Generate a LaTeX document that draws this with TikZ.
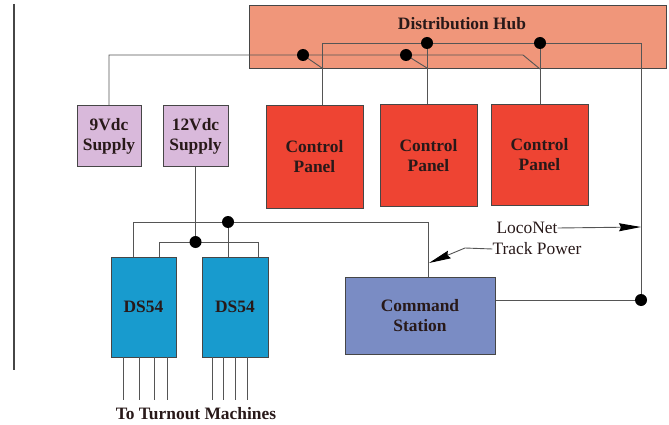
\documentclass[tikz,border=0pt]{standalone}
\usepackage{fontspec}
\setmainfont{Liberation Serif}
\usetikzlibrary{arrows.meta}
\definecolor{hubc}{RGB}{240,150,122}
\definecolor{panelc}{RGB}{238,68,51}
\definecolor{supc}{RGB}{217,185,219}
\definecolor{dsc}{RGB}{24,155,206}
\definecolor{cmdc}{RGB}{122,140,196}
\definecolor{edgec}{RGB}{70,70,70}
\definecolor{wirec}{RGB}{85,85,85}
\definecolor{txtc}{RGB}{40,25,25}
\tikzset{
  box/.style={draw=edgec, line width=1pt, inner sep=0pt, align=center,
    font=\fontsize{17.4}{20}\selectfont\bfseries, text=txtc},
  wire/.style={draw=wirec, line width=0.9pt},
  jdot/.style={circle, fill=black, inner sep=0pt, minimum size=12pt},
  lbl/.style={inner sep=0pt, font=\fontsize{17.4}{20}\selectfont, text=txtc},
  blbl/.style={inner sep=0pt, font=\fontsize{17.4}{20}\selectfont\bfseries, text=txtc},
  tip/.style={-{Stealth[length=22pt,width=8pt,inset=2pt,color=black]}}
}
\begin{document}
\begin{tikzpicture}[x=1pt,y=-1pt]
\useasboundingbox (0,0) rectangle (669,425);
% margin bar
\draw[line width=2.2pt, color=edgec] (14,4) -- (14,370);
% boxes
\node[box, fill=hubc, minimum width=417pt, minimum height=63pt] (hub) at (457.5,37.5) {};
\node[blbl] (hubtxt) at (462,24) {Distribution Hub};
\node[box, fill=supc, minimum width=64pt, minimum height=60pt] (nine) at (109,136) {9Vdc\\Supply};
\node[box, fill=supc, minimum width=65pt, minimum height=60pt] (twelve) at (195.5,136) {12Vdc\\Supply};
\node[box, fill=panelc, minimum width=97pt, minimum height=102pt] (p1) at (314.5,157) {Control\\Panel};
\node[box, fill=panelc, minimum width=97pt, minimum height=101pt] (p2) at (428.5,155.5) {Control\\Panel};
\node[box, fill=panelc, minimum width=97pt, minimum height=100pt] (p3) at (539.5,155) {Control\\Panel};
\node[box, fill=dsc, minimum width=65pt, minimum height=100pt] (ds1) at (143.5,307) {DS54};
\node[box, fill=dsc, minimum width=66pt, minimum height=100pt] (ds2) at (235,307) {DS54};
\node[box, fill=cmdc, minimum width=150pt, minimum height=77pt] (cmd) at (420,315.5) {Command\\Station};
% hub coordinates
\coordinate (u1) at (322,43);
\coordinate (u2) at (427,43);
\coordinate (u3) at (540,43);
\coordinate (ur) at (641,43);
\coordinate (l1) at (303,55);
\coordinate (l2) at (406,55);
\coordinate (le) at (523,55);
\coordinate (cr) at (641,300);
% lower (9V) line
\draw[wire] (nine.north) |- (le) -- (540,69);
\draw[wire] (l1) -- (322,68);
\draw[wire] (l2) -- (427,68);
% upper (LocoNet) line
\draw[wire] (u1 |- p1.north) -- (u1) -- (ur) -- (cr) -- (cmd.east |- cr);
\draw[wire] (u2) -- (u2 |- p2.north);
\draw[wire] (u3) -- (u3 |- p3.north);
\node[jdot] (d1) at (l1) {};
\node[jdot] (d2) at (l2) {};
\node[jdot] (d3) at (u2) {};
\node[jdot] (d4) at (u3) {};
\node[jdot] (d5) at (cr) {};
% DS54 wiring
\coordinate (a1) at (133,222);
\coordinate (a2) at (228,222);
\coordinate (a3) at (428,222);
\coordinate (b1) at (159,242);
\coordinate (b2) at (197,242);
\coordinate (b3) at (258,242);
\draw[wire] (a1 |- ds1.north) -- (a1) -- (a3) -- (a3 |- cmd.north);
\draw[wire] (a2) -- (a2 |- ds2.north);
\draw[wire] (b1 |- ds1.north) -- (b1) -- (b3) -- (b3 |- ds2.north);
\draw[wire] (twelve.south) -- (twelve.south |- b2);
\node[jdot] (d6) at (a2) {};
\node[jdot] (d7) at (twelve.south |- b2) {};
% outputs
\foreach \x in {123,139,154,167} {\draw[wire] (\x,357) -- (\x,400);}
\foreach \x in {212,223,235,247} {\draw[wire] (\x,357) -- (\x,400);}
\node[blbl] (turn) at (196,414) {To Turnout Machines};
% labels with arrows
\node[lbl] (loco) at (527,228) {LocoNet};
\node[lbl] (track) at (537,249) {Track Power};
\draw[wire, tip] (loco.east) -- (641,227);
\draw[wire, tip] (track.west) -- (465,248) -- (429,263);
\end{tikzpicture}
\end{document}
